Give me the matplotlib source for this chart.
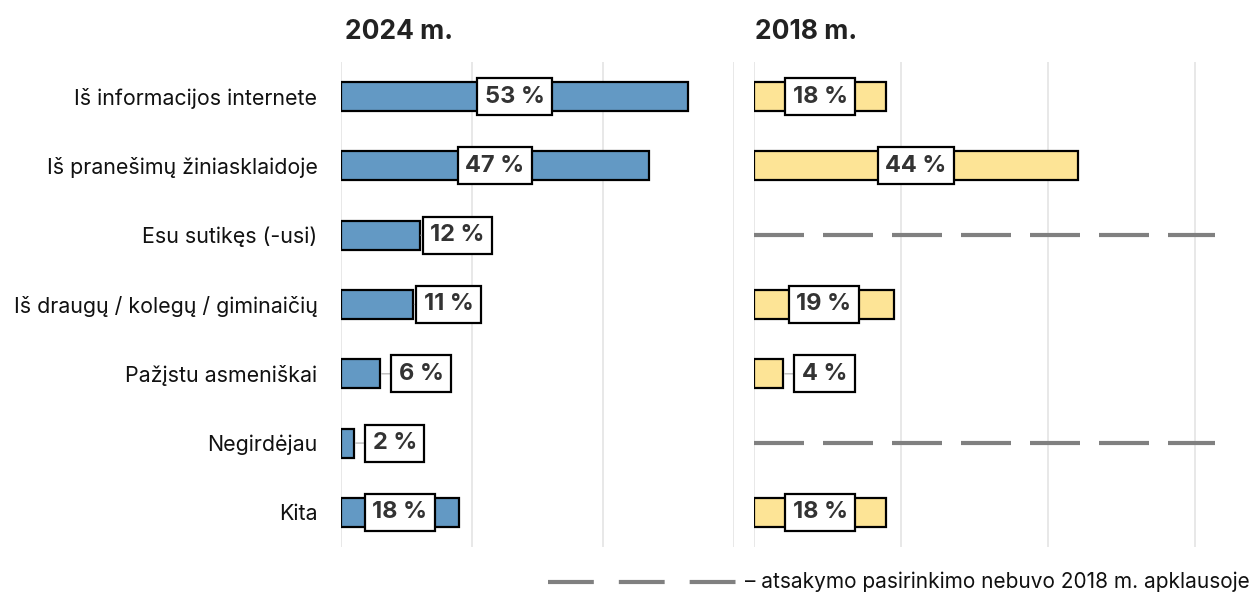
import numpy as np
import matplotlib
matplotlib.use("Agg")
import matplotlib.pyplot as plt
from matplotlib.lines import Line2D

# -------- DATA --------
categories = [
    "Iš informacijos internete",
    "Iš pranešimų žiniasklaidoje",
    "Esu sutikęs (-usi)",
    "Iš draugų / kolegų / giminaičių",
    "Pažįstu asmeniškai",
    "Negirdėjau",
    "Kita",
]
values_2024 = [53, 47, 12, 11, 6, 2, 18]
values_2018 = [18, 44, None, 19, 4, None, 18]   # None = option not asked in 2018
panel_titles = ["2024 m.", "2018 m."]
legend_text = "– atsakymo pasirinkimo nebuvo 2018 m. apklausoje"

# -------- STYLE --------
plt.rcParams['font.family'] = ['Inter', 'DejaVu Sans']
BLUE = "#6399c4"
YELLOW = "#fde496"
GRID = "#e4e4e4"
DASH = "#808080"
TXT = "#333333"
LBL_SIZE = 17
LBL_PAD = 0.32

W, H = 1254, 592
fig = plt.figure(figsize=(W / 100, H / 100), dpi=100)

ax_bottom = 1 - 547 / H
ax_height = 485 / H
ax_l = fig.add_axes([341 / W, ax_bottom, 393 / W, ax_height])
ax_r = fig.add_axes([754 / W, ax_bottom, 461 / W, ax_height])

y = np.arange(len(categories))


def draw_panel(ax, vals, color, xmax):
    ax.set_xlim(0, xmax)
    ax.set_ylim(len(vals) - 0.5, -0.5)
    for g in [0, 20, 40, 60]:
        ax.axvline(g, color=GRID, lw=1.2, zorder=0)
    for s in ax.spines.values():
        s.set_visible(False)
    ax.set_xticks([])
    px_per_unit = ax.get_position().width * W / xmax
    for i, v in enumerate(vals):
        if v is None:
            ax.plot([0, xmax * 0.999], [i, i], color=DASH, lw=3,
                    linestyle=(0, (12, 4.56)), dash_capstyle='butt', zorder=2)
            continue
        ax.barh(i, v, height=0.42, color=color, edgecolor="black",
                linewidth=1.6, zorder=2)
        label = f"{v} %"
        box = dict(boxstyle=f"square,pad={LBL_PAD}", fc="white", ec="black", lw=1.6)
        if v * px_per_unit > 100:
            ax.text(v / 2, i, label, ha="center", va="center", fontsize=LBL_SIZE,
                    fontweight="bold", color=TXT, bbox=box, zorder=3)
        else:
            gap_px = 3 if v >= 10 else 11
            off_pt = (gap_px + LBL_PAD * LBL_SIZE * 100 / 72) * 72 / 100
            ax.annotate(label, xy=(v, i), xytext=(off_pt, 0),
                        textcoords="offset points", ha="left", va="center",
                        fontsize=LBL_SIZE, fontweight="bold", color=TXT, bbox=box,
                        zorder=3,
                        arrowprops=dict(arrowstyle="-", color="#bbbbbb",
                                        lw=1, shrinkA=0, shrinkB=1))


draw_panel(ax_l, values_2024, BLUE, 60)
draw_panel(ax_r, values_2018, YELLOW, 62.7)

ax_l.set_yticks(y)
ax_l.set_yticklabels(categories, fontsize=15.4, color="#111111")
ax_l.tick_params(axis="y", length=0, pad=17)
ax_r.set_yticks([])

# -------- TITLES --------
fig.text(345 / W, 1 - 32 / H, panel_titles[0], fontsize=19, fontweight="bold",
         color="#222222", va="center", ha="left")
fig.text(755 / W, 1 - 32 / H, panel_titles[1], fontsize=19, fontweight="bold",
         color="#222222", va="center", ha="left")

# -------- LEGEND --------
fig.add_artist(Line2D([548 / W, 740 / W], [1 - 582 / H, 1 - 582 / H],
                      transform=fig.transFigure, color=DASH, lw=3,
                      linestyle=(0, (11, 6)), dash_capstyle='butt'))
fig.text(745 / W, 1 - 582 / H, legend_text, fontsize=15, color="#111111",
         va="center", ha="left")

fig.savefig("out.png", dpi=100)
